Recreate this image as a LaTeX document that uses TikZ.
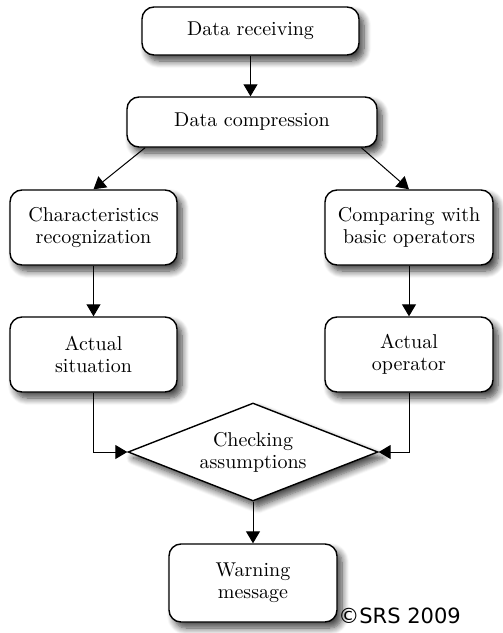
\documentclass[tikz,border=0pt]{standalone}
\usepackage{fontspec}
\newfontfamily\copyfont{DejaVu Sans}
\usetikzlibrary{shapes.geometric,arrows.meta,shadows.blur,calc}
\begin{document}
\begin{tikzpicture}[x=0.5pt,y=-0.5pt,
  shd/.style={blur shadow={shadow xshift=2.5pt,shadow yshift=-3pt,shadow blur steps=8,shadow blur radius=3.5pt,shadow opacity=75}},
  box/.style={draw=black,line width=0.7pt,fill=white,rounded corners=6pt,align=center,
    font=\fontsize{10}{11}\selectfont,inner sep=0pt,shd},
  dia/.style={draw=black,line width=0.7pt,fill=white,shape=diamond,aspect=2.55,inner sep=0pt,align=center,
    font=\fontsize{10}{11}\selectfont,shd},
  arr/.style={line width=0.5pt,-{Triangle[length=6pt,width=7pt]}}]
\useasboundingbox (0,0) rectangle (503,633);
\node[box,minimum width=108.5pt,minimum height=24pt] (rec) at (250.5,31) {Data receiving};
\node[box,minimum width=125pt,minimum height=25pt] (cmp) at (252,122) {Data compression};
\node[box,minimum width=83.5pt,minimum height=37.5pt] (chr) at (93.5,227.5) {Characteristics\\recognization};
\node[box,minimum width=84pt,minimum height=37.5pt] (cwb) at (409,227.5) {Comparing with\\basic operators};
\node[box,minimum width=83.5pt,minimum height=37.5pt] (act) at (93.5,354.5) {Actual\\situation};
\node[box,minimum width=84pt,minimum height=37.5pt] (aop) at (409,354.5) {Actual\\operator};
\node[dia,minimum width=125pt,minimum height=49pt] (chk) at (253,452) {Checking\\assumptions};
\node[box,minimum width=84pt,minimum height=39pt] (wrn) at (253,583) {Warning\\message};
\node[font=\copyfont\fontsize{10.5}{12}\selectfont,anchor=south west,inner sep=0pt] (cpr) at (338,624) {©SRS 2009};
\coordinate (cl) at ($(cmp.south west)!0.075!(cmp.south east)$);
\coordinate (cr) at ($(cmp.south west)!0.935!(cmp.south east)$);
\draw[arr] (rec.south) -- (rec.south |- cmp.north);
\draw[arr] (cl) -- (chr.north);
\draw[arr] (cr) -- (cwb.north);
\draw[arr] (chr.south) -- (act.north);
\draw[arr] (cwb.south) -- (aop.north);
\draw[arr] (act.south) |- (chk.west);
\draw[arr] (aop.south) |- (chk.east);
\draw[arr] (chk.south) -- (wrn.north);
\end{tikzpicture}
\end{document}
